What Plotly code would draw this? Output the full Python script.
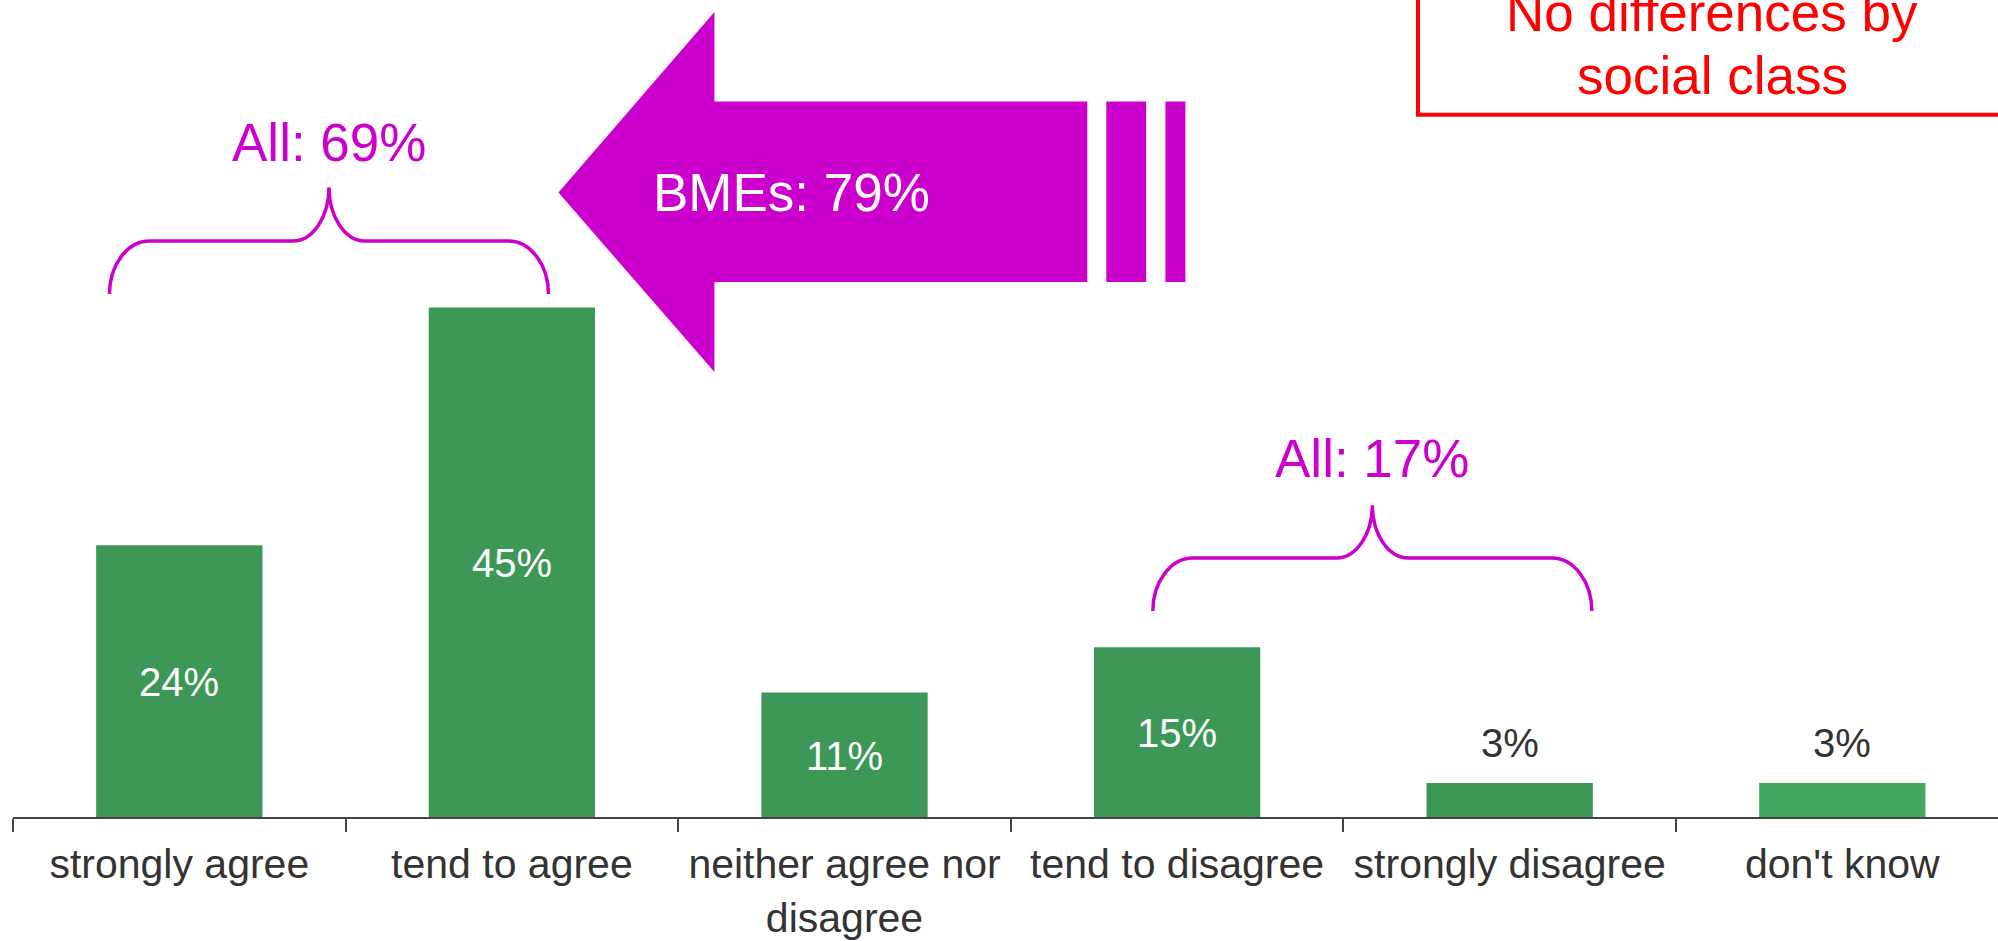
import plotly.graph_objects as go

# ---------------- data ----------------
categories = ["strongly agree", "tend to agree", "neither agree nor<br>disagree",
              "tend to disagree", "strongly disagree", "don't know"]
values = [24, 45, 11, 15, 3, 3]
bar_colors = ["#3d9858", "#3d9858", "#3d9858", "#3d9858", "#3b9656", "#44a962"]
label_inside = [True, True, True, True, False, False]

agree_total_label = "All: 69%"
disagree_total_label = "All: 17%"
bme_label = "BMEs: 79%"
note_lines = ["No differences by", "social class"]

# ---------------- geometry ----------------
W, H = 1998, 941
ML, MB = 13, 122
PLOT_W = W - ML
PLOT_H = H - MB
CAT_PX = 332.6          # pixels per category
Y_PX = 11.35            # pixels per percentage point
XR = [-0.5, -0.5 + PLOT_W / CAT_PX]
YR = [0, PLOT_H / Y_PX]

MAG = "#cc00cc"
FONT = "Liberation Sans, Arial, Helvetica, sans-serif"

def dx(px):  # pixel offset -> data x units
    return px / CAT_PX

def dy(px):
    return px / Y_PX

idx = list(range(len(categories)))

fig = go.Figure()
fig.add_trace(go.Bar(x=idx, y=values, width=0.5, marker_color=bar_colors,
                     marker_line_width=0, hoverinfo="skip"))

annotations = []
# value labels
for i, v in enumerate(values):
    if label_inside[i]:
        annotations.append(dict(x=i, y=v / 2, text=f"{v}%", showarrow=False,
                                font=dict(size=40, color="white", family=FONT),
                                xanchor="center", yanchor="middle", yshift=-1))
    else:
        annotations.append(dict(x=i, y=v, text=f"{v}%", showarrow=False,
                                font=dict(size=40, color="#333333", family=FONT),
                                xanchor="center", yanchor="middle", yshift=40))

shapes = []

def brace(xl, xr, y_end, y_mid, y_tip, rx):
    xm = (xl + xr) / 2
    k = 0.55
    ry = y_mid - y_end
    ty = y_tip - y_mid
    tx = dx(36)
    p = f"M {xl},{y_end} "
    p += f"C {xl},{y_end + k*ry} {xl + rx - k*rx},{y_mid} {xl + rx},{y_mid} "
    p += f"L {xm - tx},{y_mid} "
    p += f"C {xm - tx + k*tx},{y_mid} {xm},{y_tip - k*ty} {xm},{y_tip} "
    p += f"C {xm},{y_tip - k*ty} {xm + tx - k*tx},{y_mid} {xm + tx},{y_mid} "
    p += f"L {xr - rx},{y_mid} "
    p += f"C {xr - rx + k*rx},{y_mid} {xr},{y_end + k*ry} {xr},{y_end}"
    return dict(type="path", path=p, xref="x", yref="y",
                line=dict(color=MAG, width=3.5), layer="above")

# brace over agree bars (categories 0 and 1)
b1_l, b1_r = -0.21, 1.11
b1_end = 46.2
shapes.append(brace(b1_l, b1_r, b1_end, b1_end + dy(53), b1_end + dy(107), dx(40)))
annotations.append(dict(x=(b1_l + b1_r) / 2, y=b1_end + dy(152), text=agree_total_label,
                        showarrow=False, font=dict(size=53, color=MAG, family=FONT),
                        xanchor="center", yanchor="middle"))

# brace over disagree bars (categories 3 and 4)
b2_l, b2_r = 2.927, 4.247
b2_end = 18.2
shapes.append(brace(b2_l, b2_r, b2_end, b2_end + dy(53), b2_end + dy(106), dx(40)))
annotations.append(dict(x=(b2_l + b2_r) / 2, y=b2_end + dy(153), text=disagree_total_label,
                        showarrow=False, font=dict(size=53, color=MAG, family=FONT),
                        xanchor="center", yanchor="middle"))

# big arrow (BMEs)
tip_x, tip_y = 1.14, 55.15
head_x = 1.609
head_top, head_bot = 71.1, 39.3
sh_top, sh_bot = 63.2, 47.25
sh_r = 2.730
arrow_path = (f"M {tip_x},{tip_y} L {head_x},{head_top} L {head_x},{sh_top} "
              f"L {sh_r},{sh_top} L {sh_r},{sh_bot} L {head_x},{sh_bot} "
              f"L {head_x},{head_bot} Z")
shapes.append(dict(type="path", path=arrow_path, xref="x", yref="y",
                   fillcolor=MAG, line=dict(width=0), layer="above"))
for (s0, s1) in [(2.787, 2.907), (2.965, 3.025)]:
    shapes.append(dict(type="rect", x0=s0, x1=s1, y0=sh_bot, y1=sh_top, xref="x", yref="y",
                       fillcolor=MAG, line=dict(width=0), layer="above"))
annotations.append(dict(x=1.840, y=tip_y, text=bme_label, showarrow=False,
                        font=dict(size=53, color="white", family=FONT),
                        xanchor="center", yanchor="middle"))

# red note box (partly outside the view)
def px2paper_x(px):
    return (px - ML) / PLOT_W

def px2paper_y(py):
    return (PLOT_H - py) / PLOT_H

shapes.append(dict(type="rect", xref="paper", yref="paper",
                   x0=px2paper_x(1418), x1=px2paper_x(2010),
                   y0=px2paper_y(115), y1=px2paper_y(-20),
                   line=dict(color="#ff0000", width=4), fillcolor="rgba(0,0,0,0)"))
for line_txt, cy in zip(note_lines, [13, 76]):
    annotations.append(dict(xref="paper", yref="paper", x=px2paper_x(1712), y=px2paper_y(cy),
                            text=line_txt, showarrow=False,
                            font=dict(size=53, color="#ff0000", family=FONT),
                            xanchor="center", yanchor="middle"))

fig.update_layout(
    width=W, height=H,
    margin=dict(l=ML, r=0, t=0, b=MB, pad=0),
    paper_bgcolor="white", plot_bgcolor="white",
    showlegend=False,
    shapes=shapes, annotations=annotations,
    font=dict(family=FONT, color="#333333"),
    xaxis=dict(range=XR, tickmode="array", tickvals=idx, ticktext=categories,
               ticks="", showgrid=False, zeroline=False,
               showline=True, linecolor="#444444", linewidth=2,
               ticklabelstandoff=10,
               tickfont=dict(size=41, color="#333333", family=FONT),
               minor=dict(tickmode="array", tickvals=[i - 0.5 for i in range(len(categories) + 1)],
                          ticks="outside", ticklen=13, tickwidth=2, tickcolor="#444444",
                          showgrid=False),
               fixedrange=True),
    yaxis=dict(range=YR, visible=False, showgrid=False, zeroline=False, fixedrange=True),
)

fig.write_html("out.html", config={"displayModeBar": False},
               post_script="document.body.style.margin='0';document.body.style.overflow='hidden';")
